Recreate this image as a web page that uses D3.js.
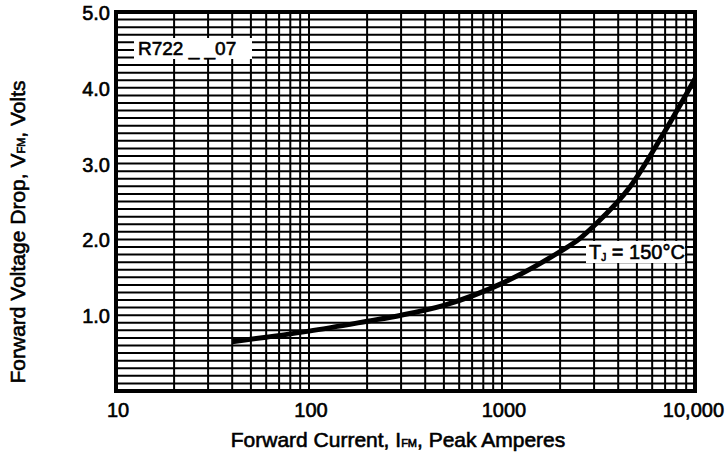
<!DOCTYPE html>
<html>
<head>
<meta charset="utf-8">
<script src="https://cdn.jsdelivr.net/npm/d3@7"></script>
<style>
  body { margin: 0; background: #fff; }
  text { font-family: "Liberation Sans", Arial, sans-serif; fill: #000; stroke: #000; stroke-width: 0.6px; }
</style>
</head>
<body>
<div id="chart"></div>
<script>
// forward current (A) vs forward voltage drop (V), Tj = 150C
const current = [40, 60, 100, 200, 300, 500, 1000, 2000, 2500, 3000, 4600, 6700, 10000];
const voltage = [0.65, 0.71, 0.79, 0.92, 1.0, 1.13, 1.42, 1.84, 2.0, 2.18, 2.69, 3.35, 4.12];
const xTicks = [10, 100, 1000, 10000];
const xTickLabels = ["10", "100", "1000", "10,000"];
const yTicks = [1, 2, 3, 4, 5];
const yTickLabels = ["1.0", "2.0", "3.0", "4.0", "5.0"];

const width = 726, height = 457;
const margin = {top: 12, right: 31, bottom: 66, left: 116};

const svg = d3.select("#chart").append("svg")
    .attr("width", width)
    .attr("height", height);

const x = d3.scaleLog()
    .domain([10, 10000])
    .range([margin.left, width - margin.right]);

const y = d3.scaleLinear()
    .domain([0, 5])
    .range([height - margin.bottom, margin.top]);

// grid
let xMinor = [];
for (let d = 10; d < 10000; d *= 10) {
    for (let k = 2; k <= 10; k++) xMinor.push(d * k);
}
const yMinor = d3.range(1, 50).map(i => i / 10);

svg.append("g")
    .selectAll("line")
    .data(yMinor)
    .join("line")
    .attr("x1", x.range()[0])
    .attr("x2", x.range()[1])
    .attr("y1", d => y(d))
    .attr("y2", d => y(d))
    .attr("stroke", "#000")
    .attr("stroke-width", 2);

svg.append("g")
    .selectAll("line")
    .data(xMinor)
    .join("line")
    .attr("x1", d => x(d))
    .attr("x2", d => x(d))
    .attr("y1", y.range()[0])
    .attr("y2", y.range()[1])
    .attr("stroke", "#000")
    .attr("stroke-width", 2);

// frame
svg.append("rect")
    .attr("x", x.range()[0])
    .attr("y", y.range()[1])
    .attr("width", x.range()[1] - x.range()[0])
    .attr("height", y.range()[0] - y.range()[1])
    .attr("fill", "none")
    .attr("stroke", "#000")
    .attr("stroke-width", 4);

// curve
const line = d3.line()
    .x((d, i) => x(current[i]))
    .y(d => y(d))
    .curve(d3.curveMonotoneX);

svg.append("path")
    .datum(voltage)
    .attr("d", line)
    .attr("fill", "none")
    .attr("stroke", "#000")
    .attr("stroke-width", 5);

// tick labels (last one right-aligned to stay inside the page)
svg.append("g")
    .selectAll("text")
    .data(xTicks)
    .join("text")
    .attr("x", d => d === 10000 ? width - 2 : x(d) + 2)
    .attr("y", 417)
    .attr("text-anchor", d => d === 10000 ? "end" : "middle")
    .style("font-size", "20px")
    .text((d, i) => xTickLabels[i]);

svg.append("g")
    .selectAll("text")
    .data(yTicks)
    .join("text")
    .attr("x", 110)
    .attr("y", d => y(d) + 8)
    .attr("text-anchor", "end")
    .style("font-size", "20px")
    .text((d, i) => yTickLabels[i]);

// labels inside the plot
function boxLabel(bx, by, w, h, build) {
    svg.append("rect")
        .attr("x", bx)
        .attr("y", by)
        .attr("width", w)
        .attr("height", h)
        .attr("fill", "#fff");
    build(svg.append("text"));
}

boxLabel(134, 38, 118, 21, t => t
    .attr("x", 138)
    .attr("y", 55)
    .style("font-size", "19px")
    .text("R722 _ _07"));

boxLabel(586, 241, 99, 22, t => {
    t.attr("x", 589).attr("y", 259).style("font-size", "20px");
    t.append("tspan").text("T");
    t.append("tspan").style("font-size", "10px").attr("dy", 2).text("J");
    t.append("tspan").attr("dy", -2).text(" = 150°C");
});

// axis titles
const xt = svg.append("text")
    .attr("x", 398)
    .attr("y", 447)
    .attr("text-anchor", "middle")
    .style("font-size", "21px");
xt.append("tspan").text("Forward Current, I");
xt.append("tspan").style("font-size", "11px").text("FM");
xt.append("tspan").text(", Peak Amperes");

const yt = svg.append("text")
    .attr("transform", "translate(25,232) rotate(-90)")
    .attr("text-anchor", "middle")
    .style("font-size", "21px");
yt.append("tspan").text("Forward Voltage Drop, V");
yt.append("tspan").style("font-size", "11px").text("FM");
yt.append("tspan").text(", Volts");
</script>
</body>
</html>
